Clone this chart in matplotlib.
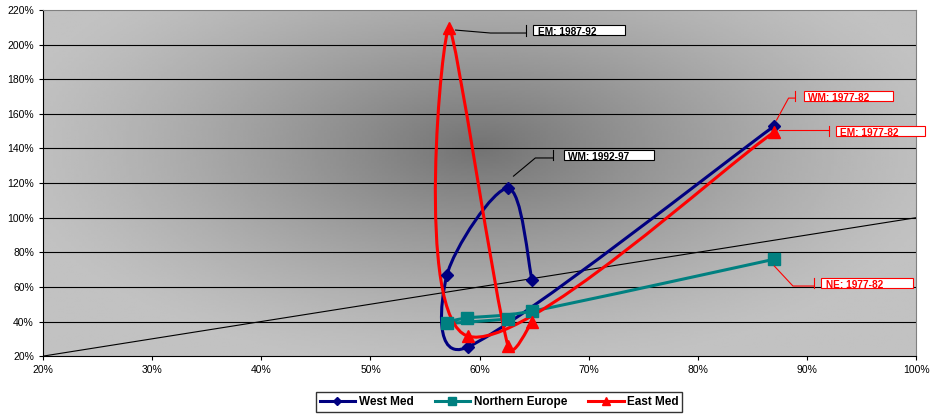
import numpy as np
import matplotlib
matplotlib.use("Agg")
import matplotlib.pyplot as plt
from matplotlib.path import Path
from matplotlib.patches import PathPatch, Rectangle
from matplotlib.lines import Line2D
from matplotlib.ticker import FuncFormatter

plt.rcParams['font.family'] = ['Liberation Sans', 'DejaVu Sans']

# data (x %, y %), periods 1977-82 ... 1997-02
wm_x = [87.0, 58.9, 57.0, 62.6, 64.8]
wm_y = [153.0, 25.2, 66.8, 117.0, 63.9]
ne_x = [87.0, 64.8, 58.8, 57.0, 62.6]
ne_y = [76.0, 46.0, 42.0, 39.0, 41.4]
em_x = [87.0, 58.9, 57.2, 62.6, 64.8]
em_y = [149.5, 31.6, 209.6, 25.8, 39.7]

names = ['West Med', 'Northern Europe', 'East Med']
colors = ['#000080', '#008080', '#FF0000']
markers = ['D', 's', '^']
msizes = [6, 8, 8]

# callouts: text, colour, leader points (data), box left, box right, box y
callouts = [
    ('EM: 1987-92', 'black', [(57.8, 208.4), (61.0, 206.7), (64.2, 206.7)], 64.9, 73.3, 208.2),
    ('WM: 1977-82', 'red', [(87.2, 156.4), (88.3, 169.1), (88.9, 169.1)], 89.7, 97.9, 170.3),
    ('EM: 1977-82', 'red', [(87.4, 150.4), (92.0, 150.4)], 92.6, 100.8, 150.1),
    ('WM: 1992-97', 'black', [(63.1, 124.0), (65.1, 134.5), (66.7, 134.5)], 67.7, 76.0, 136.2),
    ('NE: 1977-82', 'red', [(87.0, 72.0), (88.7, 60.5), (90.6, 60.5)], 91.3, 99.7, 62.2),
]

# rough pixel size of one data unit, so smoothing works like on screen
SX, SY = 10.91, 1.73


def smooth_path(xs, ys):
    # Excel-like smoothed line as cubic Bezier segments,
    # control arms limited to half of the segment length
    p = np.column_stack([np.array(xs) * SX, np.array(ys) * SY])
    n = len(p)
    verts = [p[0]]
    codes = [Path.MOVETO]
    for i in range(n - 1):
        p0 = p[max(i - 1, 0)]
        p1 = p[i]
        p2 = p[i + 1]
        p3 = p[min(i + 2, n - 1)]
        d12 = np.linalg.norm(p2 - p1)
        d02 = np.linalg.norm(p2 - p0)
        d13 = np.linalg.norm(p3 - p1)
        f1 = min(1 / 6, 0.5 * d12 / d02) if d02 > 0 else 0
        f2 = min(1 / 6, 0.5 * d12 / d13) if d13 > 0 else 0
        verts += [p1 + (p2 - p0) * f1, p2 - (p3 - p1) * f2, p2]
        codes += [Path.CURVE4] * 3
    verts = np.array(verts) / [SX, SY]
    return Path(verts, codes)


fig = plt.figure(figsize=(9.35, 4.17), dpi=100)
ax = fig.add_axes([0.046, 0.146, 0.934, 0.830])
ax.set_xlim(20, 100)
ax.set_ylim(20, 220)

# radial grey background
u, v = np.meshgrid(np.linspace(0, 1, 300), np.linspace(0, 1, 200))
d = np.sqrt(((u - 0.5) / 0.55) ** 2 + ((v - 0.6) / 0.65) ** 2)
bg = 0.76 - 0.31 * (1 - np.clip(d, 0, 1)) ** 1.3
ax.imshow(bg, extent=[20, 100, 20, 220], origin='lower', aspect='auto',
          cmap='gray', vmin=0, vmax=1, zorder=0, interpolation='bilinear')

for yv in range(40, 220, 20):
    ax.axhline(yv, color='black', lw=0.8, zorder=1)

ax.plot([20, 100], [20, 100], color='black', lw=0.8, zorder=2)

series = [(wm_x, wm_y), (ne_x, ne_y), (em_x, em_y)]
handles = []
for (xs, ys), name, c, m, ms in zip(series, names, colors, markers, msizes):
    ax.add_patch(PathPatch(smooth_path(xs, ys), fill=False, edgecolor=c, lw=2.2,
                           zorder=3, clip_on=False))
    ax.plot(xs, ys, linestyle='none', marker=m, ms=ms, color=c, zorder=4)
    handles.append(Line2D([], [], color=c, lw=2.2, marker=m, ms=ms - 2, label=name))

for text, c, pts, bx0, bx1, by in callouts:
    px = [q[0] for q in pts]
    py = [q[1] for q in pts]
    ax.plot(px, py, color=c, lw=0.8, zorder=5, clip_on=False)
    ax.plot([px[-1], px[-1]], [by - 3, by + 3], color=c, lw=0.8, zorder=5, clip_on=False)
    ax.add_patch(Rectangle((bx0, by - 2.9), bx1 - bx0, 5.8, facecolor='white',
                           edgecolor=c, lw=0.8, zorder=6, clip_on=False))
    ax.text(bx0 + 0.4, by - 0.9, text, color=c, fontsize=7.3, fontweight='bold',
            ha='left', va='center', zorder=7, clip_on=False)

ax.set_xticks(range(20, 101, 10))
ax.set_yticks(range(20, 221, 20))
ax.xaxis.set_major_formatter(FuncFormatter(lambda val, pos: f'{val:.0f}%'))
ax.yaxis.set_major_formatter(FuncFormatter(lambda val, pos: f'{val:.0f}%'))
ax.tick_params(labelsize=7.5, length=3, width=0.8, direction='out')
ax.spines['left'].set_color('black')
ax.spines['bottom'].set_color('black')
ax.spines['top'].set_color('#808080')
ax.spines['right'].set_color('#808080')

leg = fig.legend(handles=handles, loc='center', bbox_to_anchor=(0.534, 0.036), ncol=3,
                 frameon=True, fancybox=False, edgecolor='black',
                 prop={'weight': 'bold', 'size': 8.5}, handlelength=3.0,
                 borderpad=0.3, columnspacing=1.8, handletextpad=0.3)
leg.get_frame().set_linewidth(1.0)

fig.savefig('out.png', dpi=100)
